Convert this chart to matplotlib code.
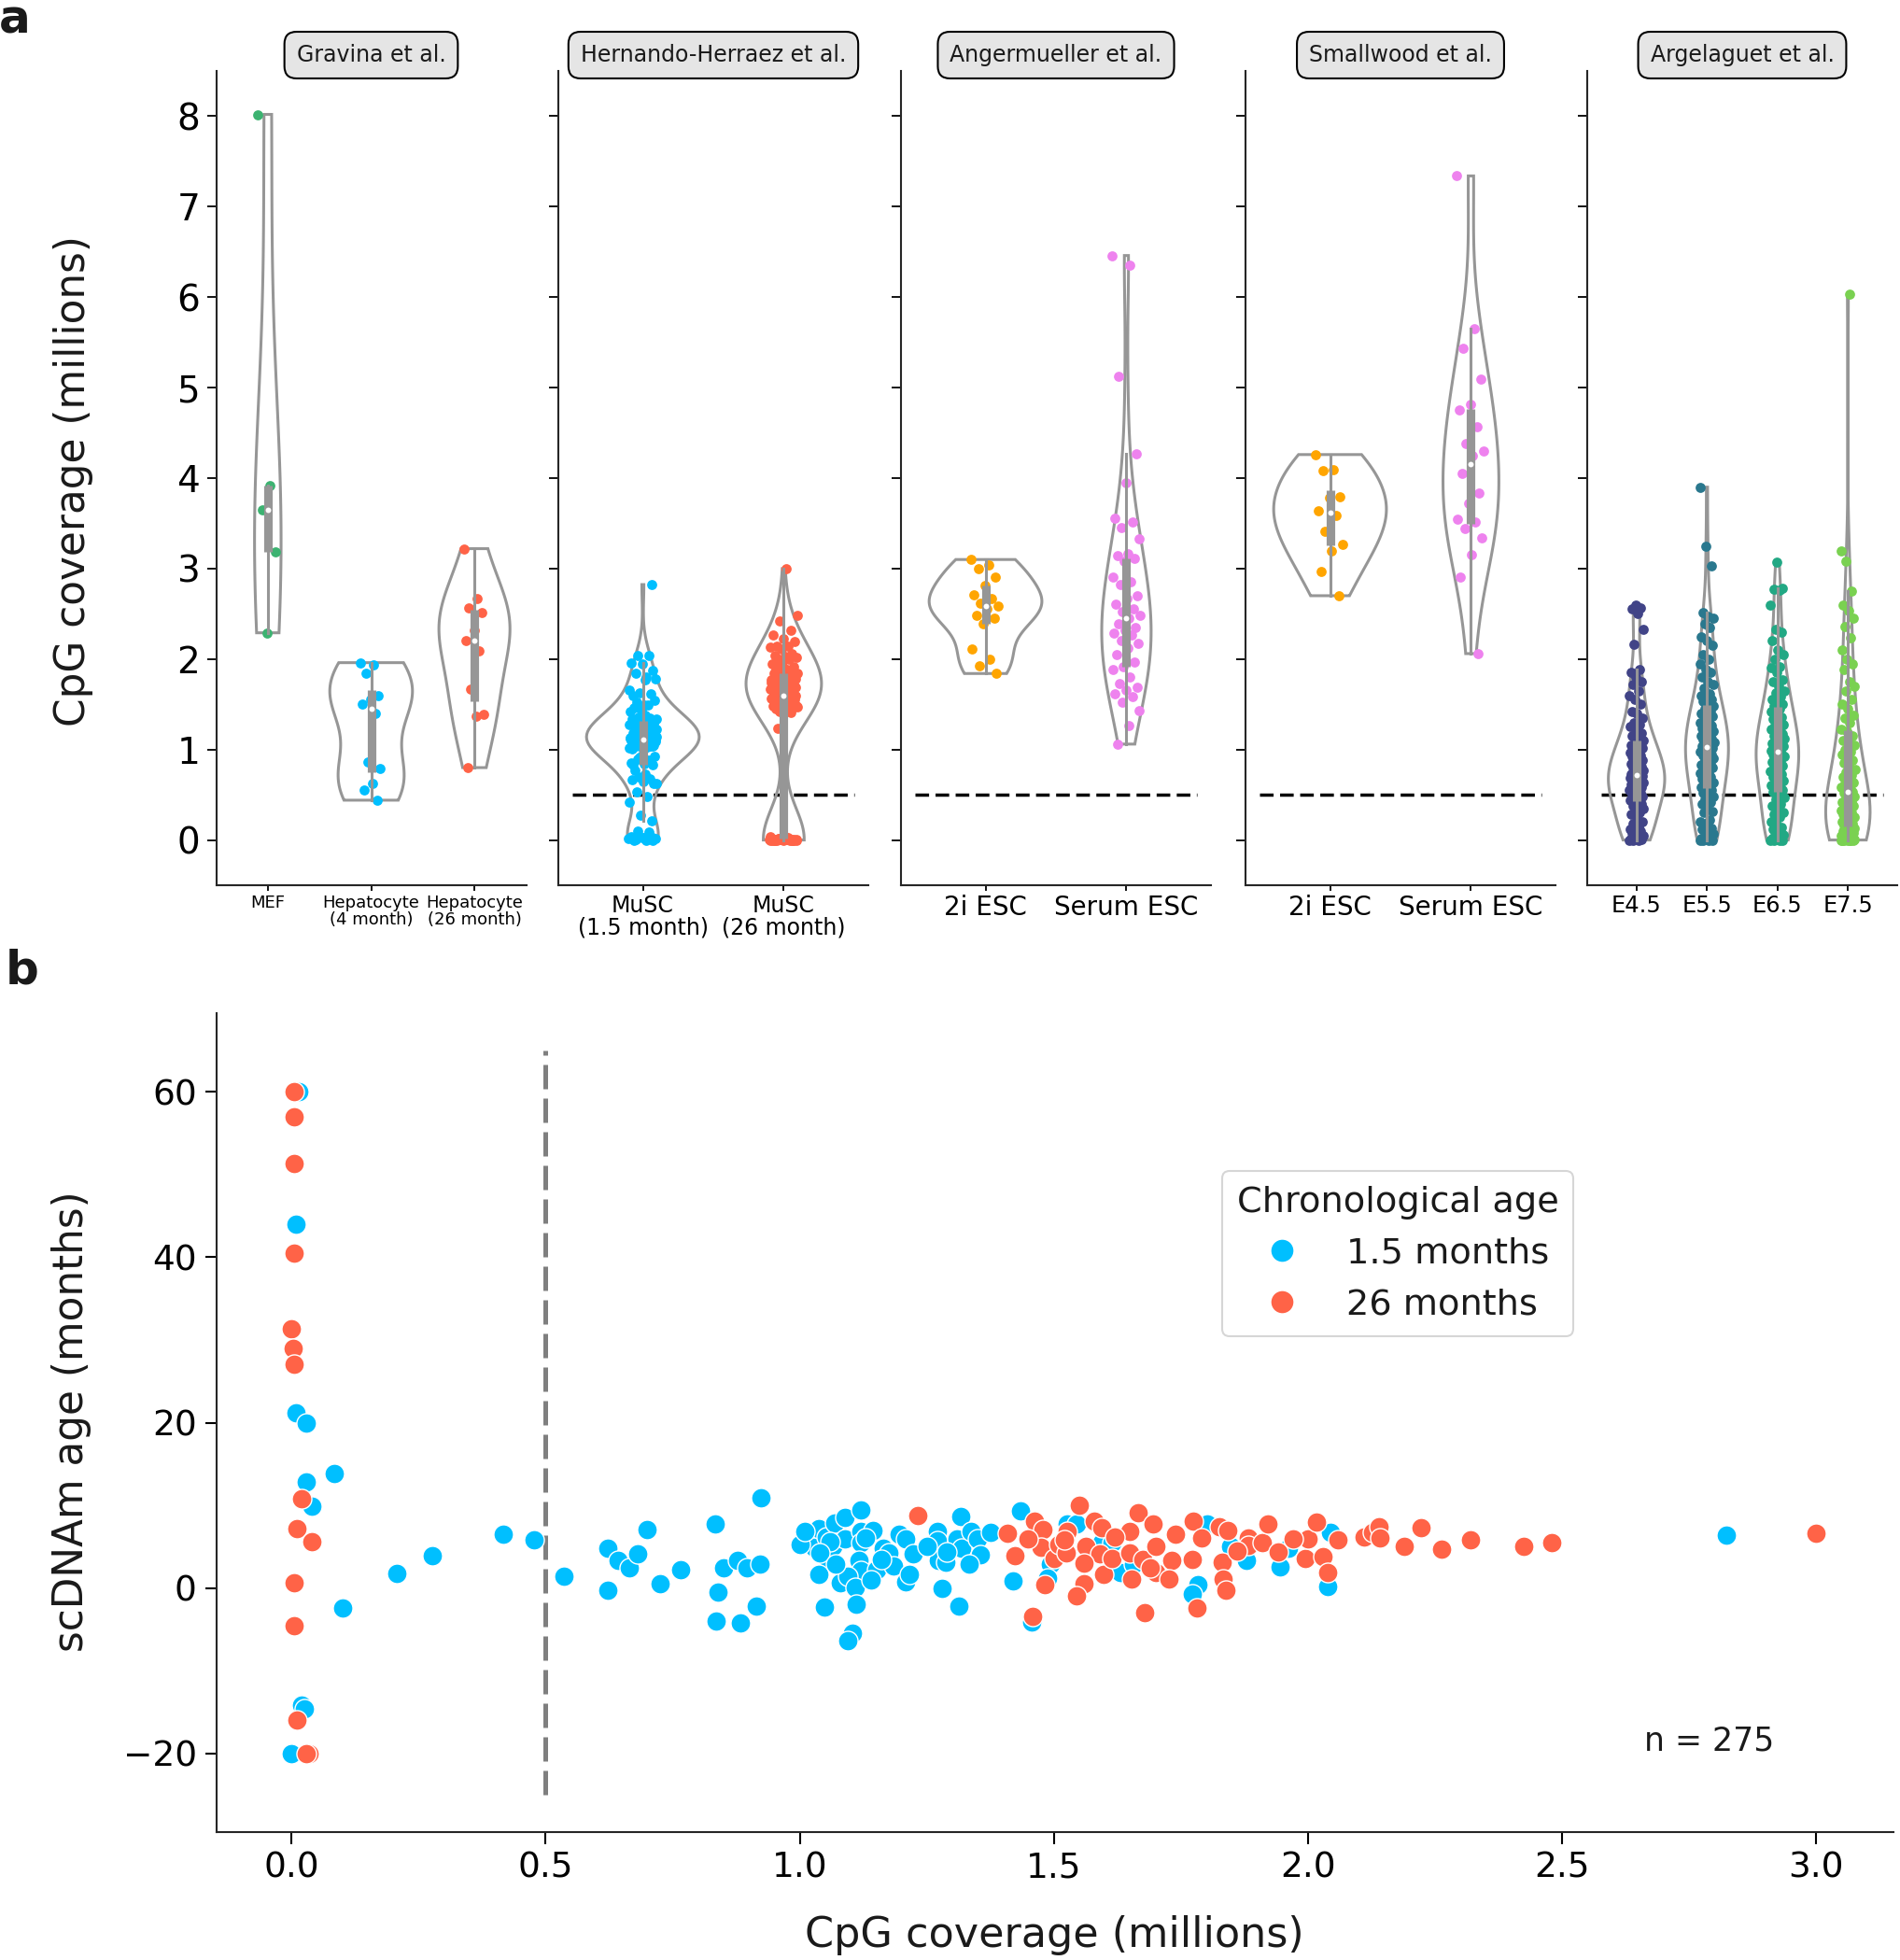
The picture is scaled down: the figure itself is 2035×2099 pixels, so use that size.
import numpy as np
import matplotlib.pyplot as plt
from matplotlib.lines import Line2D

plt.rcParams['font.family'] = ['DejaVu Sans']
plt.rcParams['text.color'] = '#1a1a1a'

# ---------------- panel b : MuSC cells (coverage in millions, predicted age) ----------------
young_cov = [0.015, 0.008, 0.008, 0.03, 0.03, 0.04, 0.085, 0.10, 0.02, 0.025, 0.0,
             0.207, 0.278, 0.416, 0.477, 0.537, 0.623, 0.642, 0.664, 0.681, 0.70, 0.622,
             0.725, 0.765, 0.833, 0.924, 0.851, 0.878, 0.896, 0.921, 0.839, 0.835, 0.883, 0.915,
             1.022, 1.028, 1.037, 1.052, 1.055, 1.066, 1.069, 1.089, 1.089, 1.121, 1.121, 1.121,
             1.144, 1.117, 1.12, 1.152, 1.165, 1.176, 1.184, 1.196, 1.208, 1.224, 1.208, 1.215,
             1.038, 1.08, 1.095, 1.11, 1.049, 1.112, 1.103, 1.095,
             1.27, 1.27, 1.273, 1.288, 1.316, 1.31, 1.319, 1.337, 1.349, 1.355, 1.334, 1.375,
             1.281, 1.314, 1.434, 1.42, 1.493, 1.527, 1.544, 1.487, 1.594, 1.615, 1.631, 1.656,
             1.802, 1.848, 1.879, 1.946, 1.961, 2.044, 2.038, 1.784, 1.772, 1.457,
             2.823, 1.06, 1.13, 1.16, 1.25, 1.29, 1.00, 1.01, 1.04, 1.07, 1.14]
young_age = [60.0, 44.0, 21.2, 19.9, 12.8, 9.9, 13.8, -2.4, -14.2, -14.6, -20.0,
             1.8, 3.9, 6.5, 5.8, 1.4, 4.8, 3.4, 2.5, 4.1, 7.1, -0.3,
             0.5, 2.2, 7.8, 10.9, 2.4, 3.4, 2.5, 2.9, -0.5, -4.0, -4.2, -2.2,
             6.2, 4.9, 7.2, 6.2, 3.7, 5.0, 7.9, 8.5, 5.9, 9.4, 6.8, 5.5,
             7.0, 3.4, 2.1, 2.2, 4.8, 4.2, 2.7, 6.5, 5.9, 4.1, 0.8, 1.7,
             1.7, 0.6, 1.4, 0.1, -2.3, -2.0, -5.4, -6.4,
             6.8, 5.7, 3.3, 3.1, 8.6, 5.9, 4.8, 6.8, 5.9, 4.0, 2.9, 6.7,
             0.0, -2.2, 9.3, 0.9, 2.9, 7.8, 7.8, 1.2, 5.5, 5.5, 1.9, 2.9,
             7.8, 5.0, 3.4, 2.6, 4.8, 6.7, 0.2, 0.4, -0.7, -4.1,
             6.4, 5.6, 6.1, 3.5, 5.0, 4.4, 5.3, 6.8, 4.3, 2.9, 1.0]

old_cov = [0.005, 0.006, 0.005, 0.005, 0.0, 0.003, 0.005, 0.02, 0.01, 0.04, 0.005, 0.005,
           0.01, 0.035, 0.03, 1.233,
           1.551, 1.462, 1.478, 1.409, 1.424, 1.474, 1.50, 1.51, 1.527, 1.525, 1.563, 1.579,
           1.594, 1.591, 1.597, 1.615, 1.649, 1.649, 1.666, 1.695, 1.675, 1.70, 1.701, 1.732,
           1.726, 1.653, 1.483, 1.559, 1.544, 1.458, 1.679, 1.775, 1.79, 1.773, 1.781, 1.826,
           1.842, 1.832, 1.833, 1.839, 1.882, 1.882, 1.91, 1.922, 1.942, 1.995, 2.001, 2.017,
           2.029, 2.038, 2.059,
           2.11, 2.127, 2.14, 2.142, 2.19, 2.223, 2.262, 2.32, 2.424, 2.48, 3.0,
           1.45, 1.52, 1.62, 1.74, 1.86, 1.97, 1.69, 1.56]
old_age = [60.0, 57.0, 51.3, 40.5, 31.3, 29.0, 27.0, 10.8, 7.2, 5.6, 0.6, -4.5,
           -16.0, -20.0, -20.0, 8.8,
           10.0, 8.1, 7.1, 6.6, 3.9, 4.9, 3.6, 5.3, 6.8, 4.3, 5.0, 8.1,
           7.3, 4.1, 1.7, 3.6, 6.8, 4.3, 9.1, 7.8, 3.5, 5.0, 1.9, 3.3,
           1.1, 1.1, 0.4, 0.5, -0.9, -3.4, -3.0, 8.1, 6.1, 3.5, -2.4, 7.4,
           7.0, 3.1, 1.1, -0.3, 6.1, 5.1, 5.5, 7.7, 4.4, 3.6, 6.0, 8.0,
           3.8, 1.9, 5.8,
           6.2, 6.7, 7.4, 6.1, 5.0, 7.3, 4.7, 5.8, 5.0, 5.5, 6.6,
           6.0, 5.8, 6.2, 6.5, 4.5, 5.9, 2.5, 3.0]

# cells with ~0 coverage and no age estimate (only shown in panel a)
young_zero = [0.0, 0.01, 0.0]
old_zero = [0.0, 0.0, 0.01, 0.0, 0.02, 0.0, 0.0, 0.01, 0.0, 0.0, 0.02, 0.0, 0.01, 0.0, 0.0]

# ---------------- panel a : other datasets (coverage in millions) ----------------
mef = [8.02, 3.92, 3.65, 3.18, 2.29]
hep_4m = [1.96, 1.94, 1.84, 1.60, 1.55, 1.50, 1.40, 0.86, 0.79, 0.62, 0.55, 0.44]
hep_26m = [3.22, 2.67, 2.57, 2.51, 2.32, 2.20, 2.09, 1.67, 1.39, 1.37, 0.80]

ang_2i = [3.10, 3.04, 3.00, 2.91, 2.81, 2.71, 2.67, 2.62, 2.59, 2.55, 2.48, 2.45, 2.39,
          2.11, 2.00, 1.93, 1.84]
ang_serum = [6.46, 6.35, 5.12, 4.27, 3.95, 3.56, 3.52, 3.45, 3.33, 3.16, 3.14, 3.11, 3.08,
             2.91, 2.85, 2.82, 2.70, 2.67, 2.61, 2.56, 2.52, 2.48, 2.45, 2.39, 2.35, 2.32,
             2.29, 2.27, 2.20, 2.17, 2.12, 2.05, 1.97, 1.91, 1.88, 1.80, 1.73, 1.69, 1.66,
             1.62, 1.58, 1.52, 1.43, 1.27, 1.06]

sw_2i = [4.26, 4.09, 4.08, 3.79, 3.78, 3.64, 3.59, 3.41, 3.27, 3.20, 2.97, 2.70]
sw_serum = [7.34, 5.65, 5.43, 5.09, 4.82, 4.75, 4.57, 4.38, 4.30, 4.25, 4.05, 3.84, 3.72,
            3.55, 3.51, 3.44, 3.34, 3.15, 2.91, 2.06]

e45 = [0.0, 0.0, 0.0, 0.01, 0.02, 0.02, 0.03, 0.04, 0.05, 0.06, 0.08, 0.1, 0.1, 0.12, 0.15,
       0.18, 0.2, 0.25, 0.28, 0.3, 0.32, 0.35, 0.36, 0.38, 0.4, 0.42, 0.44, 0.45, 0.47, 0.48,
       0.5, 0.5, 0.52, 0.53, 0.55, 0.55, 0.57, 0.58, 0.6, 0.61, 0.62, 0.63, 0.64, 0.65, 0.66,
       0.67, 0.68, 0.69, 0.7, 0.7, 0.71, 0.72, 0.73, 0.74, 0.75, 0.77, 0.78, 0.8, 0.81, 0.82,
       0.84, 0.85, 0.87, 0.88, 0.9, 0.92, 0.93, 0.95, 0.97, 0.98, 1.0, 1.02, 1.03, 1.05, 1.07,
       1.08, 1.1, 1.12, 1.15, 1.18, 1.2, 1.25, 1.28, 1.3, 1.35, 1.4, 1.42, 1.5, 1.55, 1.6,
       1.65, 1.72, 1.75, 1.8, 1.85, 1.88, 2.16, 2.33, 2.5, 2.55, 2.57, 2.6]
e55 = [0.0, 0.0, 0.0, 0.0, 0.01, 0.02, 0.04, 0.05, 0.07, 0.1, 0.12, 0.13, 0.18, 0.2, 0.22,
       0.3, 0.32, 0.35, 0.4, 0.42, 0.45, 0.48, 0.5, 0.52, 0.55, 0.56, 0.58, 0.6, 0.62, 0.64,
       0.66, 0.68, 0.7, 0.72, 0.74, 0.76, 0.78, 0.8, 0.82, 0.83, 0.86, 0.88, 0.9, 0.92, 0.93,
       0.95, 0.97, 0.98, 1.0, 1.01, 1.02, 1.03, 1.04, 1.05, 1.07, 1.08, 1.1, 1.11, 1.12, 1.14,
       1.15, 1.17, 1.18, 1.2, 1.22, 1.23, 1.26, 1.27, 1.3, 1.32, 1.33, 1.37, 1.38, 1.4, 1.43,
       1.45, 1.48, 1.5, 1.53, 1.55, 1.57, 1.6, 1.62, 1.68, 1.72, 1.75, 1.8, 1.85, 1.88, 1.95,
       2.0, 2.05, 2.15, 2.2, 2.25, 2.35, 2.39, 2.45, 2.47, 2.51, 3.03, 3.25, 3.9]
e65 = [0.0, 0.0, 0.0, 0.0, 0.01, 0.02, 0.03, 0.05, 0.06, 0.1, 0.12, 0.14, 0.18, 0.2, 0.25,
       0.28, 0.3, 0.35, 0.38, 0.4, 0.45, 0.47, 0.5, 0.53, 0.55, 0.56, 0.6, 0.62, 0.63, 0.66,
       0.68, 0.7, 0.73, 0.75, 0.76, 0.78, 0.8, 0.82, 0.83, 0.86, 0.88, 0.9, 0.92, 0.93, 0.95,
       0.96, 0.97, 0.99, 1.0, 1.02, 1.04, 1.05, 1.07, 1.08, 1.1, 1.12, 1.13, 1.15, 1.17, 1.2,
       1.22, 1.24, 1.26, 1.28, 1.32, 1.34, 1.36, 1.4, 1.42, 1.45, 1.48, 1.5, 1.52, 1.55, 1.58,
       1.63, 1.65, 1.7, 1.75, 1.77, 1.85, 1.9, 1.92, 2.0, 2.05, 2.1, 2.2, 2.3, 2.33, 2.6,
       2.76, 2.77, 2.78, 3.07]
e75 = [0.0, 0.0, 0.0, 0.0, 0.0, 0.0, 0.0, 0.01, 0.01, 0.02, 0.02, 0.03, 0.04, 0.05, 0.06,
       0.07, 0.08, 0.09, 0.1, 0.11, 0.12, 0.13, 0.15, 0.16, 0.18, 0.19, 0.2, 0.22, 0.24, 0.25,
       0.27, 0.28, 0.3, 0.31, 0.33, 0.35, 0.36, 0.38, 0.4, 0.42, 0.43, 0.46, 0.48, 0.5, 0.52,
       0.53, 0.55, 0.58, 0.6, 0.62, 0.64, 0.66, 0.7, 0.72, 0.75, 0.78, 0.8, 0.85, 0.88, 0.9,
       0.95, 0.98, 1.0, 1.05, 1.08, 1.1, 1.15, 1.2, 1.22, 1.3, 1.35, 1.38, 1.45, 1.5, 1.55,
       1.65, 1.7, 1.75, 1.88, 1.95, 2.0, 2.1, 2.24, 2.36, 2.45, 2.53, 2.6, 2.75, 3.08, 3.19,
       6.03]

BLUE = '#00bfff'
RED = '#ff6347'
GRAY = '#969696'

panels = [
    ('Gravina et al.', [mef, hep_4m, hep_26m],
     ['MEF', 'Hepatocyte\n(4 month)', 'Hepatocyte\n(26 month)'],
     ['#3cb371', BLUE, RED], 13, False),
    ('Hernando-Herraez et al.', [young_cov + young_zero, old_cov + old_zero],
     ['MuSC\n(1.5 month)', 'MuSC\n(26 month)'], [BLUE, RED], 17, True),
    ('Angermueller et al.', [ang_2i, ang_serum], ['2i ESC', 'Serum ESC'],
     ['#ffa500', '#ee82ee'], 20, True),
    ('Smallwood et al.', [sw_2i, sw_serum], ['2i ESC', 'Serum ESC'],
     ['#ffa500', '#ee82ee'], 20, True),
    ('Argelaguet et al.', [e45, e55, e65, e75], ['E4.5', 'E5.5', 'E6.5', 'E7.5'],
     ['#414487', '#2a788e', '#22a884', '#7ad151'], 17.4, True),
]


def draw_violins(ax, groups, colors):
    grids, dens = [], []
    for vals in groups:
        v = np.asarray(vals, float)
        g = np.linspace(v.min(), v.max(), 100)
        bw = v.std(ddof=1) * len(v) ** (-0.2)
        d = np.exp(-0.5 * ((g[:, None] - v[None, :]) / bw) ** 2).sum(1)
        d = d / (len(v) * bw * np.sqrt(2 * np.pi))
        grids.append(g)
        dens.append(d)
    dmax = max(d.max() for d in dens)
    for i, vals in enumerate(groups):
        v = np.asarray(vals, float)
        half = 0.4 * dens[i] / dmax
        xs = np.concatenate([i - half, (i + half)[::-1]])
        ys = np.concatenate([grids[i], grids[i][::-1]])
        ax.fill(xs, ys, facecolor='none', edgecolor=GRAY, lw=2.2, zorder=2)
        # strip points
        offs = ((np.arange(len(v)) * 0.618034) % 1.0 - 0.5) * 0.2
        ax.scatter(i + offs, v, s=60, color=colors[i], linewidths=0, zorder=3)
        # inner box
        q25, q50, q75 = np.percentile(v, [25, 50, 75])
        lim = 1.5 * (q75 - q25)
        lo = v[v >= q25 - lim].min()
        hi = v[v <= q75 + lim].max()
        ax.plot([i, i], [lo, hi], color=GRAY, lw=2.2, zorder=4)
        ax.plot([i, i], [q25, q75], color=GRAY, lw=6.6, solid_capstyle='butt', zorder=4)
        ax.scatter([i], [q50], s=18, color='white', linewidths=0, zorder=5)


fig = plt.figure(figsize=(20.35, 20.99), dpi=100)

lefts = [231.5, 598, 965, 1334, 1700]
for k, (title, groups, labels, colors, lsize, hline) in enumerate(panels):
    ax = fig.add_axes([lefts[k] / 2035, 1 - 948 / 2099, 332 / 2035, 872 / 2099])
    draw_violins(ax, groups, colors)
    n = len(groups)
    if hline:
        ax.plot([-0.5, n - 0.5], [0.5, 0.5], color='black', lw=2.5,
                dashes=(4.2, 2.0), zorder=1)
        ax.set_xlim(-0.5 - 0.05 * n, n - 0.5 + 0.05 * n)
    else:
        ax.set_xlim(-0.5, n - 0.5)
    ax.set_ylim(-0.5, 8.5)
    ax.set_yticks(range(9))
    ax.set_xticks(range(n))
    ax.set_xticklabels(labels, fontsize=lsize, linespacing=1.0)
    ax.tick_params(axis='y', labelsize=28, length=7.5, width=1.3, pad=5)
    ax.tick_params(axis='x', length=4, width=1.3, pad=3)
    if k > 0:
        ax.tick_params(labelleft=False)
    for s in ['top', 'right']:
        ax.spines[s].set_visible(False)
    for s in ['left', 'bottom']:
        ax.spines[s].set_linewidth(1.5)
        ax.spines[s].set_color('#262626')
    ax.text(0.5, 1.0195, title, transform=ax.transAxes, ha='center', va='center',
            fontsize=17, bbox=dict(boxstyle='round,pad=0.55', facecolor='#e5e5e5',
                                   edgecolor='black', lw=1.5))

fig.text(78 / 2035, 1 - 515 / 2099, 'CpG coverage (millions)', rotation=90,
         ha='center', va='center', fontsize=31.5)
fig.text(16 / 2035, 1 - 21 / 2099, 'a', ha='center', va='center',
         fontsize=36, fontweight='bold')

# ---------------- panel b ----------------
axb = fig.add_axes([231.6 / 2035, 1 - 1962 / 2099, 1796.4 / 2035, 877 / 2099])
axb.plot([0.5, 0.5], [-25, 65], color='#7f7f7f', lw=3.6, dashes=(5.2, 2.0), zorder=1)
axb.scatter(young_cov, young_age, s=230, color=BLUE, edgecolor='white', linewidths=1, zorder=2)
axb.scatter(old_cov, old_age, s=230, color=RED, edgecolor='white', linewidths=1, zorder=2)
axb.set_xlim(-0.148, 3.152)
axb.set_ylim(-29.5, 69.5)
axb.set_xticks([0.0, 0.5, 1.0, 1.5, 2.0, 2.5, 3.0])
axb.set_yticks([-20, 0, 20, 40, 60])
axb.tick_params(labelsize=27, length=9, width=1.5, pad=6)
for s in ['top', 'right']:
    axb.spines[s].set_visible(False)
for s in ['left', 'bottom']:
    axb.spines[s].set_linewidth(1.5)
    axb.spines[s].set_color('#262626')
axb.text(0.890, 0.111, 'n = 275', transform=axb.transAxes, ha='center', va='center',
         fontsize=25)
handles = [Line2D([], [], ls='none', marker='o', markersize=17, color=BLUE, mec='none'),
           Line2D([], [], ls='none', marker='o', markersize=17, color=RED, mec='none')]
leg = axb.legend(handles, ['1.5 months', '26 months'], title='Chronological age',
                 loc='upper left', bbox_to_anchor=(0.600, 0.807), borderaxespad=0,
                 fontsize=27.5, title_fontsize=27.5, frameon=True)
leg.get_frame().set_edgecolor('#cccccc')
leg.get_frame().set_linewidth(1.5)

fig.text(1129 / 2035, 1 - 2073 / 2099, 'CpG coverage (millions)', ha='center',
         va='center', fontsize=32)
fig.text(76 / 2035, 1 - 1522 / 2099, 'scDNAm age (months)', rotation=90,
         ha='center', va='center', fontsize=31.5)
fig.text(24 / 2035, 1 - 1040 / 2099, 'b', ha='center', va='center',
         fontsize=36, fontweight='bold')

fig.savefig('out.png', dpi=100)
